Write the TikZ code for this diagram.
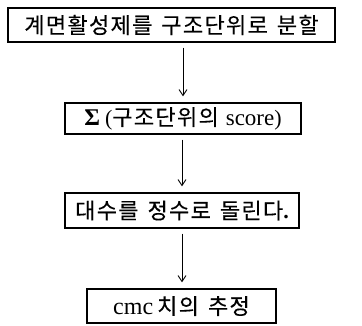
\documentclass[tikz,border=0pt]{standalone}
\usepackage{fontspec}
\setmainfont{Liberation Serif}
\newfontfamily\kr[LetterSpace=6, FakeBold=0.3]{Noto Sans CJK KR}
\newcommand\wsp{\hspace{9pt}}
\usetikzlibrary{arrows.meta}
\begin{document}
\begin{tikzpicture}[x=1pt,y=1pt,
  box/.style={draw, line width=1.3pt, inner sep=0pt, font=\fontsize{22}{26}\selectfont},
  flow/.style={-{Straight Barb[length=6pt,width=8pt]}, line width=0.9pt, shorten <=5pt, shorten >=6pt}]
\useasboundingbox (0,0) rectangle (362,-325);
\node[box, minimum width=327pt, minimum height=34pt] (b1) at (171.5,-25) {\kr 계면활성제를\wsp 구조단위로\wsp 분할};
\node[box, minimum width=236pt, minimum height=31pt] (b2) at (183,-118.5) {{\fontsize{24}{26}\selectfont\textbf{Σ}}\hspace{5pt}({\kr 구조단위의}\hspace{7pt}{\fontsize{23}{26}\selectfont score})};
\node[box, minimum width=234pt, minimum height=35pt] (b3) at (182,-210.5) {{\kr 대수를\wsp 정수로\wsp 돌린다}\textbf{.}};
\node[box, minimum width=189pt, minimum height=34pt] (b4) at (181.5,-306) {{\fontsize{24}{26}\selectfont cmc}\hspace{4pt}{\kr 치의\wsp 추정}};
\draw[flow] (b1.south -| b2.center) -- (b2.north -| b2.center);
\draw[flow] (b2.south -| b3.center) -- (b3.north);
\draw[flow] (b3.south -| b3.center) -- (b4.north -| b3.center);
\end{tikzpicture}
\end{document}
